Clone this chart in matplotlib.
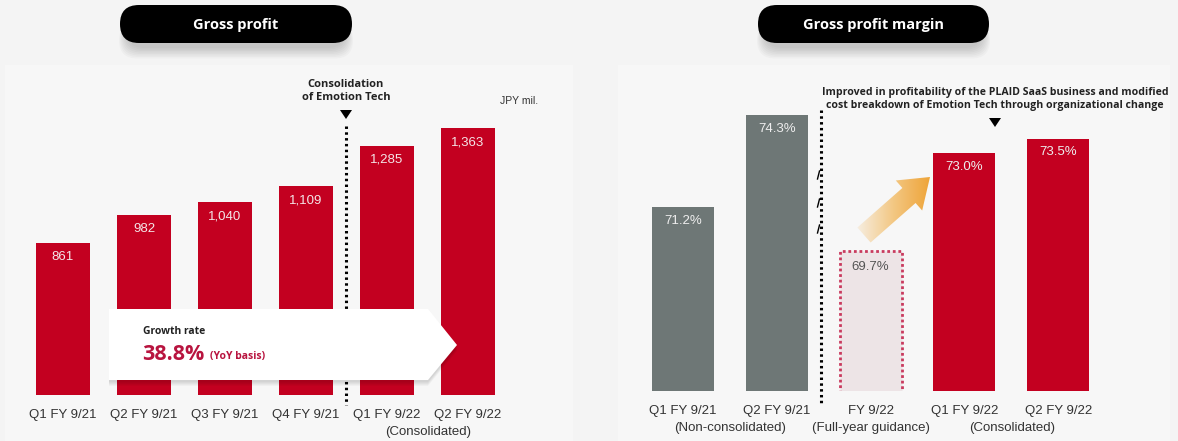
import numpy as np
import matplotlib
matplotlib.use("Agg")
import matplotlib.pyplot as plt
from matplotlib.patches import FancyBboxPatch, Polygon, Rectangle, FancyArrow
from matplotlib.colors import LinearSegmentedColormap

# data
gp_labels = ["Q1 FY 9/21", "Q2 FY 9/21", "Q3 FY 9/21", "Q4 FY 9/21", "Q1 FY 9/22", "Q2 FY 9/22"]
gp_values = [861, 982, 1040, 1109, 1285, 1363]
gm_labels = ["Q1 FY 9/21", "Q2 FY 9/21", "FY 9/22", "Q1 FY 9/22", "Q2 FY 9/22"]
gm_values = [71.2, 74.3, 69.7, 73.0, 73.5]
gm_kind = ["actual", "actual", "guidance", "consolidated", "consolidated"]

W, H = 1178, 441
RED = "#c30020"
GRAY = "#6e7776"
BG = "#f4f4f4"
PANEL = "#f7f7f7"
DARK = "#222222"
plt.rcParams["font.family"] = ["Liberation Sans", "DejaVu Sans"]

fig = plt.figure(figsize=(W / 100, H / 100), dpi=100)
fig.patch.set_facecolor(BG)


def px_axes(x0, x1, y_top, y_bot):
    return fig.add_axes([x0 / W, 1 - y_bot / H, (x1 - x0) / W, (y_bot - y_top) / H])


# background panels (bottom layer)
bgax = fig.add_axes([0, 0, 1, 1], zorder=0)
bgax.set_xlim(0, W); bgax.set_ylim(H, 0); bgax.axis("off")
bgax.add_patch(Rectangle((5, 65), 568, 380, fc=PANEL, ec="none"))
bgax.add_patch(Rectangle((618, 65), 552, 380, fc=PANEL, ec="none"))

# ---------------- left: gross profit ----------------
# bar i centred at 63 + 81*i px, baseline 395 px, 0.229 px per JPY mil, axis floor ~198
axL = px_axes(0, 590, 60, 395)
axL.set_zorder(1)
axL.patch.set_alpha(0)
xL = np.arange(len(gp_values))
axL.bar(xL, gp_values, width=0.655, color=RED, zorder=2)
axL.set_xlim(-63 / 81, (590 - 63) / 81)
axL.set_ylim(198, 198 + 335 / 0.229)
for x, v in zip(xL, gp_values):
    axL.annotate(f"{v:,}", (x, v), xytext=(0, -10), textcoords="offset points",
                 ha="center", va="center", color="#f4e6e8", fontsize=9.5, zorder=3)
axL.set_xticks(xL)
axL.set_xticklabels(gp_labels, fontsize=9.5, color="#333333")
axL.tick_params(length=0, pad=10)
for s in axL.spines.values():
    s.set_visible(False)
axL.set_yticks([])

# ---------------- right: gross profit margin ----------------
# bar i centred at 683 + 93.8*i px, baseline 391 px, 29.7 px per %, floor 65%
axR = px_axes(590, W, 60, 391)
axR.set_zorder(1)
axR.patch.set_alpha(0)
xR = np.arange(len(gm_values))
for x, v, k in zip(xR, gm_values, gm_kind):
    if k == "guidance":
        axR.bar(x, v, width=0.66, color="#ede4e6", edgecolor="#c93a5e",
                linewidth=2, linestyle=(0, (1, 1)), zorder=2)
        axR.annotate(f"{v:.1f}%", (x, v), xytext=(0, -11.5), textcoords="offset points",
                     ha="center", va="center", color="#555555", fontsize=9.5, zorder=3)
    else:
        axR.bar(x, v, width=0.66, color=GRAY if k == "actual" else RED, zorder=2)
        axR.annotate(f"{v:.1f}%", (x, v), xytext=(0, -10), textcoords="offset points",
                     ha="center", va="center", color="#eeeeee", fontsize=9.5, zorder=3)
axR.set_xlim(-(683 - 590) / 93.8, (W - 683) / 93.8)
axR.set_ylim(65, 65 + 331 / 29.7)
axR.set_xticks(xR)
axR.set_xticklabels(gm_labels, fontsize=9.5, color="#333333")
axR.tick_params(length=0, pad=10)
for s in axR.spines.values():
    s.set_visible(False)
axR.set_yticks([])

# ---------------- overlay (pixel coords) ----------------
ov = fig.add_axes([0, 0, 1, 1], zorder=5)
ov.set_xlim(0, W); ov.set_ylim(H, 0); ov.axis("off")
ov.patch.set_alpha(0)


def pill(x0, x1, text):
    for i in range(8):
        ov.add_patch(FancyBboxPatch((x0 + 6 - i, 12 + i * 1.5), x1 - x0 - 12 + 2 * i, 36,
                                    boxstyle="round,pad=0,rounding_size=18",
                                    fc="black", ec="none", alpha=0.025, zorder=1))
    ov.add_patch(FancyBboxPatch((x0, 5), x1 - x0, 38, boxstyle="round,pad=0,rounding_size=19",
                                fc="black", ec="none", zorder=2))
    ov.text((x0 + x1) / 2, 24.5, text, ha="center", va="center", color="white",
            fontsize=10.5, fontweight="bold", family="Open Sans", zorder=3)


pill(120, 352, "Gross profit")
pill(758, 989, "Gross profit margin")

# left annotations
ov.plot([346, 346], [126, 405], color="black", lw=2.2, linestyle=(0, (0.8, 1.1)), zorder=4)
ov.add_patch(Polygon([[340, 110], [352, 110], [346, 119]], closed=True, fc="black", ec="none"))
ov.text(346, 91, "Consolidation\nof Emotion Tech", ha="center", va="center", fontsize=8,
        fontweight="bold", color=DARK, family="Open Sans", linespacing=1.2)
ov.text(500, 101, "JPY mil.", ha="left", va="center", fontsize=7.5, color="#333333")
ov.text(428, 432, "(Consolidated)", ha="center", va="center", fontsize=9.5, color="#333333")

# growth rate box with shadow
pts = [[109, 309], [428, 309], [457, 345], [428, 380], [109, 380]]
for i in range(6):
    sh = [[x, y + 2 + i * 0.8] for x, y in pts]
    ov.add_patch(Polygon(sh, closed=True, fc="black", ec="none", alpha=0.025, zorder=6))
ov.add_patch(Polygon(pts, closed=True, fc="white", ec="none", zorder=7))
ov.text(143, 332, "Growth rate", ha="left", va="center", fontsize=7.5, fontweight="bold",
        color=DARK, family="Open Sans", zorder=8)
ov.text(142, 354, "38.8%", ha="left", va="center", fontsize=15.5, fontweight="bold",
        color="#b8143f", family="Open Sans", zorder=8)
ov.text(210, 357, "(YoY basis)", ha="left", va="center", fontsize=7.5, fontweight="bold",
        color="#b8143f", family="Open Sans", zorder=8)

# right annotations
ov.plot([820.5, 820.5], [110, 405], color="black", lw=2.2, linestyle=(0, (0.8, 1.1)), zorder=4)
for yy in [175, 203, 229]:
    ov.plot([817.5, 819.5], [yy + 4, yy - 4], color="black", lw=1.0, zorder=4)
ov.add_patch(Polygon([[989, 118], [1001, 118], [995, 127]], closed=True, fc="black", ec="none"))
ov.text(995, 99, "Improved in profitability of the PLAID SaaS business and modified\n"
        "cost breakdown of Emotion Tech through organizational change",
        ha="center", va="center", fontsize=7.6, fontweight="bold", color=DARK,
        family="Open Sans", linespacing=1.25)
ov.text(730, 428, "(Non-consolidated)", ha="center", va="center", fontsize=9.5, color="#333333")
ov.text(871, 428, "(Full-year guidance)", ha="center", va="center", fontsize=9.5, color="#333333")
ov.text(1012, 428, "(Consolidated)", ha="center", va="center", fontsize=9.5, color="#333333")

# gradient arrow
arr = FancyArrow(864, 235, 66, -58, width=20, head_width=40, head_length=28,
                 length_includes_head=True, fc="none", ec="none", zorder=4)
ov.add_patch(arr)
grad = np.linspace(0, 1, 256)[None, :]
cm = LinearSegmentedColormap.from_list("o", ["#f7f3ee", "#f3c884", "#eea030"])
im = ov.imshow(np.tile(grad, (2, 1)), cmap=cm, extent=[852, 934, 250, 170], aspect="auto",
               zorder=4, interpolation="bilinear")
im.set_clip_path(arr)
ov.set_xlim(0, W); ov.set_ylim(H, 0)

fig.savefig("out.png", dpi=100, facecolor=BG)
